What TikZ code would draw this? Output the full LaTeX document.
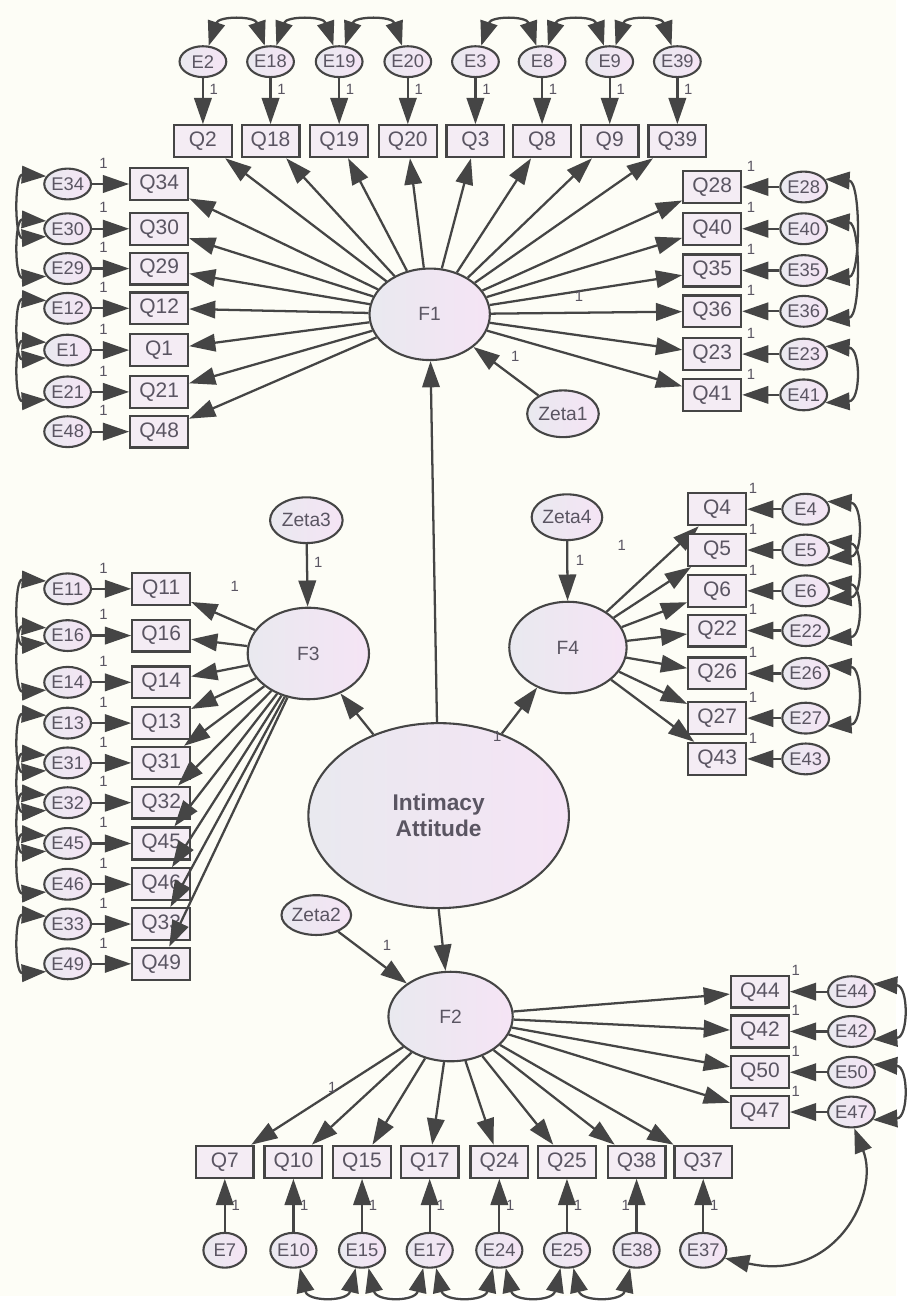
\documentclass[tikz,border=0pt]{standalone}
\usepackage{fontspec}
\setmainfont{Liberation Sans}
\usetikzlibrary{shapes.geometric,arrows.meta}
\definecolor{paper}{HTML}{FDFDF6}
\definecolor{ink}{HTML}{454545}
\definecolor{txt}{HTML}{5A5562}
\definecolor{boxfill}{HTML}{F4ECF4}
\definecolor{ellleft}{HTML}{E9E9EF}
\definecolor{ellright}{HTML}{F5E4F5}
\tikzset{
  obs/.style={draw=ink,line width=1.3pt,fill=boxfill,rectangle,minimum width=1.16cm,
    minimum height=0.64cm,inner sep=0pt,text=txt,font=\fontsize{12}{12}\selectfont},
  err/.style={draw=ink,line width=1.2pt,ellipse,left color=ellleft,right color=ellright,
    minimum width=0.94cm,minimum height=0.62cm,inner sep=0pt,text=txt,font=\fontsize{10.5}{11}\selectfont},
  lat/.style={draw=ink,line width=1.2pt,ellipse,left color=ellleft,right color=ellright,
    inner sep=0pt,text=txt,font=\fontsize{11}{11}\selectfont},
  load/.style={draw=ink,line width=1.3pt,-{Triangle[length=15pt,width=10pt]}},
  cov/.style={draw=ink,line width=1.3pt,{Triangle[length=14pt,width=10pt]}-{Triangle[length=14pt,width=10pt]}},
  wt/.style={text=txt,font=\fontsize{8.5}{9}\selectfont,inner sep=1pt},
}
\begin{document}
\begin{tikzpicture}[x=0.02cm,y=-0.02cm]
\fill[paper] (0,0) rectangle (901,1303);
% latent factors
\node[lat,minimum width=5.24cm,minimum height=3.72cm,align=center,
  font=\fontsize{13}{15}\selectfont\bfseries] (IA) at (441,820) {Intimacy\\Attitude};
\node[lat,minimum width=2.42cm,minimum height=1.84cm] (F1) at (432,316) {F1};
\node[lat,minimum width=2.44cm,minimum height=1.84cm] (F3) at (310,657) {F3};
\node[lat,minimum width=2.36cm,minimum height=1.84cm] (F4) at (571,651) {F4};
\node[lat,minimum width=2.5cm,minimum height=1.8cm] (F2) at (453,1022) {F2};
\node[lat,minimum width=1.44cm,minimum height=0.94cm] (Z1) at (566,416) {Zeta1};
\node[lat,minimum width=1.46cm,minimum height=0.92cm] (Z3) at (308,523) {Zeta3};
\node[lat,minimum width=1.42cm,minimum height=0.92cm] (Z4) at (570,520) {Zeta4};
\node[lat,minimum width=1.4cm,minimum height=0.8cm] (Z2) at (318,920) {Zeta2};
\draw[load] (IA) -- (F1);
\draw[load] (IA) -- (F3);
\draw[load] (IA) -- (F4);
\draw[load] (IA.south) -- (F2);
\node[wt] at (500,740) {1};
\draw[load] (Z1) -- (F1);
\node[wt] at (518,358) {1};
\draw[load] (Z3) -- (F3);
\node[wt] at (320,565) {1};
\draw[load] (Z4) -- (F4);
\node[wt] at (583,563) {1};
\draw[load] (Z2) -- (F2);
\node[wt] at (389,950) {1};
% F1 items
\foreach \n/\x in {2/204,18/272,19/341,20/410,3/478,8/545,9/613,39/681}{
  \node[obs] (Q\n) at (\x,142) {Q\n};
  \node[err] (E\n) at (\x,62) {E\n};
  \draw[load] (E\n) -- (Q\n);
  \node[wt] at (\x+11,90) {1};
  \draw[load] (F1) -- (Q\n);
}
\foreach \a/\b in {2/18,18/19,19/20,3/8,8/9,9/39}
  \draw[cov] (E\a.70) .. controls +(10,-30) and +(-10,-30) .. (E\b.110);
\foreach \n/\y in {34/185,30/230,29/270,12/310,1/352,21/394,48/434}{
  \node[obs] (Q\n) at (160,\y) {Q\n};
  \node[err] (E\n) at (68,\y) {E\n};
  \draw[load] (E\n) -- (Q\n);
  \node[wt] at (104,\y-21) {1};
  \draw[load] (F1) -- (Q\n);
}
\foreach \a/\b in {34/30,30/29,12/1,1/21}
  \draw[cov] (E\a.160) .. controls +(-32,-2) and +(-32,2) .. (E\b.200);
\foreach \n/\y in {28/188,40/230,35/272,36/313,23/356,41/397}{
  \node[obs] (Q\n) at (716,\y) {Q\n};
  \node[err] (E\n) at (808,\y) {E\n};
  \draw[load] (E\n) -- (Q\n);
  \node[wt] at (755,\y-21) {1};
  \draw[load] (F1) -- (Q\n);
}
\foreach \a/\b in {28/35,40/36,23/41}
  \draw[cov] (E\a.20) .. controls +(36,2) and +(36,-2) .. (E\b.-20);
\node[wt] at (582,298) {1};
% F3 items
\foreach \n/\y in {11/592,16/639,14/686,13/727,31/767,32/807,45/848,46/889,33/929,49/969}{
  \node[obs] (Q\n) at (162,\y) {Q\n};
  \node[err] (E\n) at (68,\y) {E\n};
  \draw[load] (E\n) -- (Q\n);
  \node[wt] at (104,\y-21) {1};
  \draw[load] (F3) -- (Q\n);
}
\foreach \a/\b in {11/16,16/14,13/31,31/32,32/45,45/46,33/49}
  \draw[cov] (E\a.160) .. controls +(-32,-2) and +(-32,2) .. (E\b.200);
\node[wt] at (236,590) {1};
% F4 items
\foreach \n/\y in {4/512,5/553,6/594,22/634,26/677,27/722,43/763}{
  \node[obs] (Q\n) at (721,\y) {Q\n};
  \node[err] (E\n) at (810,\y) {E\n};
  \draw[load] (E\n) -- (Q\n);
  \node[wt] at (757,\y-21) {1};
  \draw[load] (F4) -- (Q\n);
}
\foreach \a/\b in {4/5,5/6,6/22,26/27}
  \draw[cov] (E\a.20) .. controls +(36,2) and +(36,-2) .. (E\b.-20);
\node[wt] at (625,548) {1};
% F2 items
\foreach \n/\y in {44/997,42/1037,50/1078,47/1118}{
  \node[obs] (Q\n) at (764,\y) {Q\n};
  \node[err] (E\n) at (856,\y) {E\n};
  \draw[load] (E\n) -- (Q\n);
  \node[wt] at (800,\y-21) {1};
  \draw[load] (F2) -- (Q\n);
}
\foreach \a/\b in {44/42,50/47}
  \draw[cov] (E\a.20) .. controls +(36,2) and +(36,-2) .. (E\b.-20);
\foreach \n/\x/\s in {7/226/1,10/295/1,15/364/1,17/432/1,24/502/1,25/570/1,38/640/-1,37/707/1}{
  \node[obs] (Q\n) at (\x,1168) {Q\n};
  \node[err,minimum width=0.86cm,minimum height=0.7cm] (E\n) at (\x,1257) {E\n};
  \draw[load] (E\n) -- (Q\n);
  \node[wt] at (\x+11*\s,1212) {1};
  \draw[load] (F2) -- (Q\n);
}
\foreach \a/\b in {10/15,15/17,17/24,24/25,25/38}
  \draw[cov] (E\a.-70) .. controls +(8,34) and +(-8,34) .. (E\b.-110);
\draw[cov] (E37.-20) .. controls (840,1290) and (885,1200) .. (E47.-80);
\node[wt] at (334,1093) {1};
\end{tikzpicture}
\end{document}
